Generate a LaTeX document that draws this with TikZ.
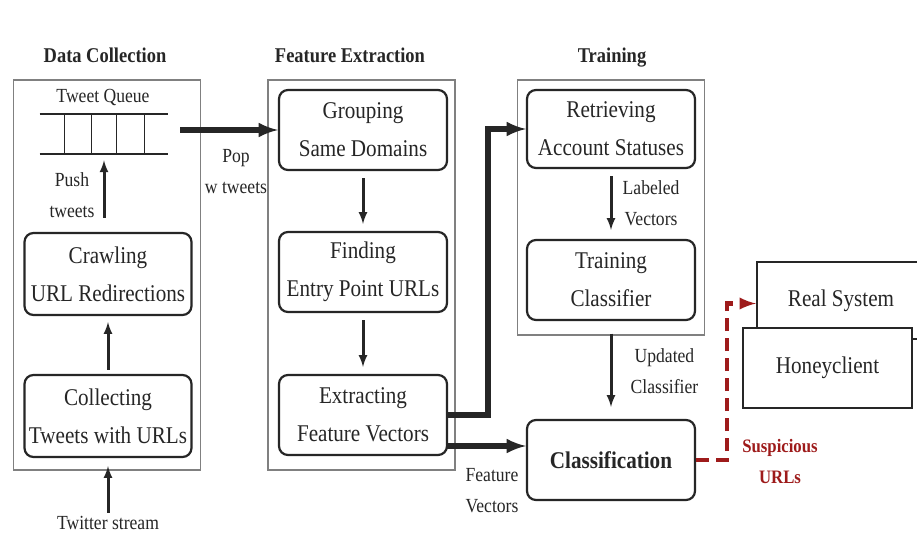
\documentclass[tikz,border=0pt]{standalone}
\usepackage{fontspec}
\setmainfont{Liberation Serif}[FakeStretch=0.88]
\definecolor{ink}{HTML}{262626}
\definecolor{urlred}{HTML}{9E1B1B}
\begin{document}
\begin{tikzpicture}[x=1pt,y=-1pt,>=latex,thick,
    stage box/.style={draw=black!50,line width=1.4pt,minimum width=187pt},
    stage title/.style={font=\bfseries\fontsize{21}{24}\selectfont,text=ink,text height=15pt,text depth=5pt},
    main node/.style={draw=ink,rounded corners=9pt,line width=2.2pt,minimum width=168pt,minimum height=80pt,align=center,text=ink,font=\fontsize{24}{38}\selectfont},
    plain node/.style={draw=ink,line width=2.4pt,minimum width=168pt,minimum height=78pt,fill=white,text=ink,font=\fontsize{24}{30}\selectfont},
    small label/.style={align=center,text=ink,font=\fontsize{20}{31}\selectfont},
    flow/.style={->,draw=ink,line width=3pt},
    feed/.style={->,draw=ink,line width=5.5pt}]
                \useasboundingbox (0,0) rectangle (917,535);
                \clip (0,0) rectangle (917,535);
                \fill[white] (0,0) rectangle (917,535);

                % stages
                \node[stage box,minimum height=390pt] at (107,275) (dc) {};
                \node[stage box,minimum height=390pt] at (361.5,275) (fe) {};
                \node[stage box,minimum height=255pt] at (611,207.5) (train) {};
                \node[stage title] at (105,58) (dc title) {Data Collection};
                \node[stage title] at (350,58) (fe title) {Feature Extraction};
                \node[stage title] at (612,58) (train title) {Training};

                % tweet queue
                \node[small label] at (103,97) (queue title) {Tweet Queue};
                \node[minimum width=128pt,minimum height=40pt,inner sep=0pt] at (104,134) (queue) {};
                \draw[ink,line width=2pt] (queue.north west) -- (queue.north east)
                    (queue.south west) -- (queue.south east);
                \foreach \dx in {25,52,77,105}
                    \draw[ink,line width=1.5pt] ([xshift=\dx pt]queue.north west) -- ([xshift=\dx pt]queue.south west);

                \node[main node,minimum width=167pt,minimum height=82pt] at (108,274) (crawl) {Crawling\\URL Redirections};
                \node[main node,minimum width=167pt,minimum height=82pt] at (108,416) (collect) {Collecting\\Tweets with URLs};
                \node[small label] at (108,523) (twitter) {Twitter stream};

                \node[main node] at (363,130) (group) {Grouping\\Same Domains};
                \node[main node] at (363,272) (find) {Finding\\Entry Point URLs};
                \node[main node] at (363,415) (extract) {Extracting\\Feature Vectors};

                \node[main node,minimum height=78pt] at (611,129) (retrieve) {Retrieving\\Account Statuses};
                \node[main node] at (611,280) (trainc) {Training\\Classifier};
                \node[main node,font=\bfseries\fontsize{24}{30}\selectfont] at (611,460) (classify) {Classification};

                \node[plain node,minimum height=77pt] at (841,300.5) (real) {Real System};
                \node[plain node,minimum width=169pt,minimum height=80pt] at (827.5,368) (honey) {Honeyclient};

                % labels
                \node[small label] at (72,195) (push) {Push\\tweets};
                \node[small label] at (236,172) (pop) {Pop\\w tweets};
                \node[small label,anchor=west] at (619,203) (labeled) {Labeled\\Vectors};
                \node[small label,anchor=west] at (627,371) (updated) {Updated\\Classifier};
                \node[small label] at (492,491) (fv) {Feature\\Vectors};
                \node[small label,text=urlred,font=\bfseries\fontsize{19}{31}\selectfont] at (780,461) (susp) {Suspicious\\URLs};

                \coordinate (pop start) at (180,130);
                \coordinate (fv start) at (447,446);

                \path
                    (twitter) edge[flow,shorten >=8pt] (collect)
                    (collect) edge[flow,shorten <=4pt,shorten >=6pt] (crawl)
                    (queue.south |- crawl.north) edge[flow,shorten <=14pt,shorten >=6pt] (queue.south)
                    (pop start) edge[feed] (group)
                    (group) edge[flow,shorten <=7pt,shorten >=7pt] (find)
                    (find) edge[flow,shorten <=7pt,shorten >=7pt] (extract)
                    (retrieve) edge[flow,shorten <=7pt,shorten >=9pt] (trainc)
                    (train.south) edge[flow,shorten <=-2pt,shorten >=12pt] (classify)
                    ;
                \draw[feed] (extract.east) -- ++(40,0) |- (retrieve.west);
                \draw[feed] (fv start) -- (fv start -| classify.west);
                \draw[->,urlred,line width=4.5pt,dash pattern=on 13pt off 7pt] (classify.east) -- ++(31,0) |- ([yshift=-3pt]real.west);
            \end{tikzpicture}
\end{document}
